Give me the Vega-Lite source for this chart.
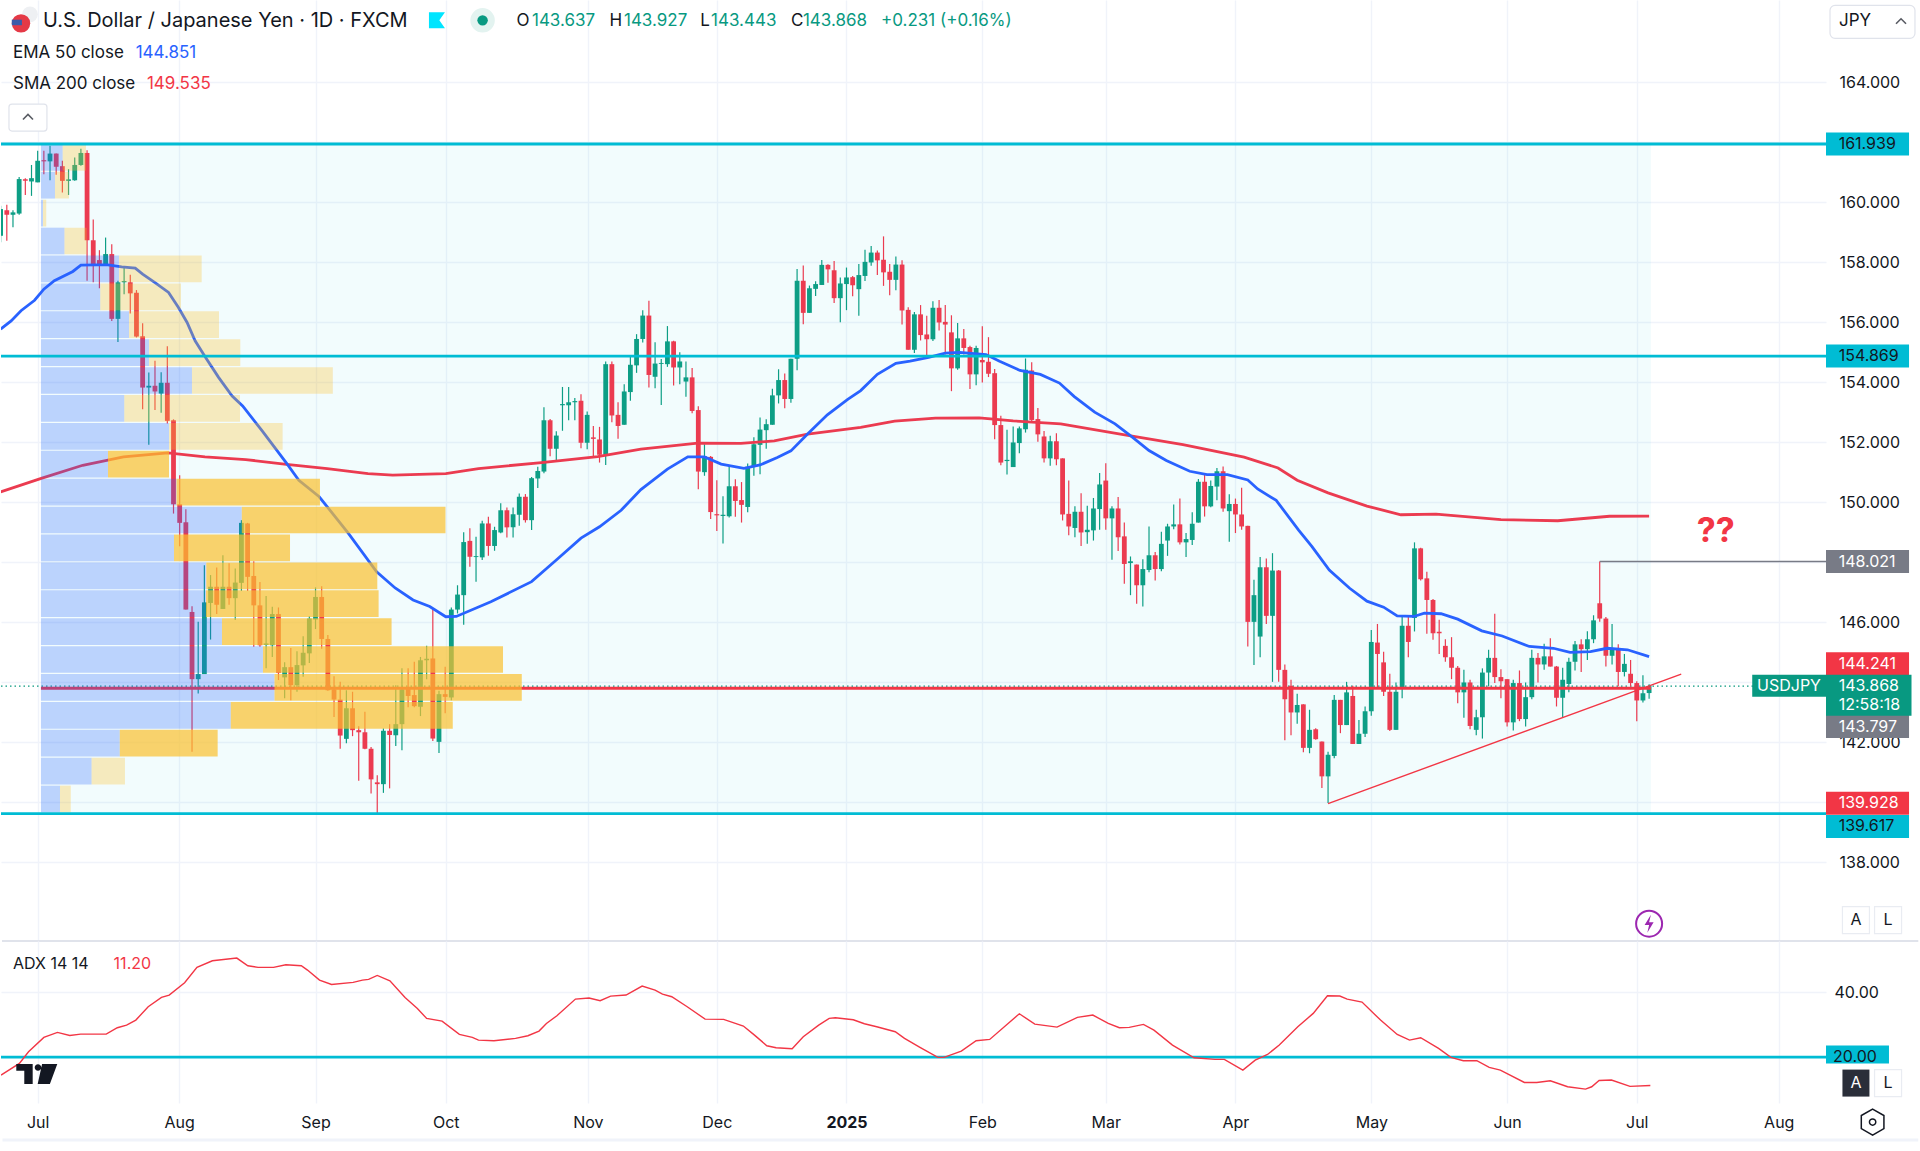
{
  "$schema": "https://vega.github.io/schema/vega-lite/v6.json",
  "description": "USD/JPY daily candles with EMA 50, SMA 200, volume profile and ADX",
  "background": "white",
  "padding": 0,
  "spacing": 0,
  "bounds": "flush",
  "config": {
    "view": {"stroke": null},
    "font": "Inter",
    "axis": {"title": null}
  },
  "datasets": {
    "candles": [
      {"i":-6,"o":158.88,"h":159.88,"l":158.66,"c":159.77},{"i":-5,"o":159.73,"h":159.91,"l":158.71,"c":159.58},{"i":-4,"o":159.58,"h":159.73,"l":159.16,"c":159.66},{"i":-3,"o":159.62,"h":160.84,"l":159.58,"c":160.77},{"i":-2,"o":160.76,"h":160.80,"l":160.24,"c":160.71},{"i":-1,"o":160.69,"h":161.24,"l":160.21,"c":160.80},
      {"i":0,"o":160.66,"h":161.71,"l":160.66,"c":161.38},{"i":1,"o":161.40,"h":161.71,"l":160.93,"c":161.36},{"i":2,"o":161.36,"h":161.88,"l":160.73,"c":161.62},{"i":3,"o":161.62,"h":161.62,"l":160.91,"c":161.18},{"i":4,"o":161.20,"h":161.38,"l":160.32,"c":160.71},{"i":5,"o":160.71,"h":161.10,"l":160.24,"c":160.76},{"i":6,"o":160.73,"h":161.49,"l":160.71,"c":161.24},{"i":7,"o":161.24,"h":161.78,"l":161.21,"c":161.64},{"i":8,"o":161.64,"h":161.73,"l":157.38,"c":158.73},{"i":9,"o":158.73,"h":159.42,"l":157.33,"c":157.87},
      {"i":10,"o":158.07,"h":158.40,"l":157.13,"c":157.91},{"i":11,"o":157.91,"h":158.82,"l":157.88,"c":158.27},{"i":12,"o":158.27,"h":158.60,"l":156.04,"c":156.11},{"i":13,"o":156.11,"h":157.38,"l":155.34,"c":157.33},{"i":14,"o":157.33,"h":157.84,"l":156.93,"c":157.37},{"i":15,"o":157.33,"h":157.58,"l":156.29,"c":156.96},{"i":16,"o":156.98,"h":157.07,"l":155.49,"c":155.52},{"i":17,"o":155.53,"h":155.96,"l":153.10,"c":153.82},{"i":18,"o":153.82,"h":154.32,"l":151.91,"c":153.88},{"i":19,"o":153.88,"h":154.71,"l":153.07,"c":153.69},
      {"i":20,"o":153.62,"h":154.33,"l":152.98,"c":153.98},{"i":21,"o":153.98,"h":155.20,"l":152.62,"c":152.71},{"i":22,"o":152.73,"h":152.76,"l":149.62,"c":149.93},{"i":23,"o":149.93,"h":150.90,"l":148.53,"c":149.31},{"i":24,"o":149.33,"h":149.76,"l":146.42,"c":146.42},{"i":25,"o":146.34,"h":146.53,"l":141.68,"c":144.10},{"i":26,"o":144.10,"h":146.01,"l":143.62,"c":144.27},{"i":27,"o":144.27,"h":147.90,"l":144.27,"c":146.66},{"i":28,"o":146.64,"h":147.57,"l":145.42,"c":147.18},{"i":29,"o":147.18,"h":147.82,"l":146.27,"c":146.58},
      {"i":30,"o":146.44,"h":148.23,"l":146.44,"c":147.18},{"i":31,"o":147.18,"h":147.96,"l":146.58,"c":146.80},{"i":32,"o":146.80,"h":147.79,"l":146.07,"c":147.32},{"i":33,"o":147.31,"h":149.40,"l":147.04,"c":149.31},{"i":34,"o":149.29,"h":149.31,"l":147.04,"c":147.51},{"i":35,"o":147.54,"h":148.03,"l":145.18,"c":146.56},{"i":36,"o":146.56,"h":147.34,"l":145.18,"c":145.23},{"i":37,"o":145.24,"h":146.87,"l":144.46,"c":145.29},{"i":38,"o":145.23,"h":146.51,"l":144.84,"c":146.27},{"i":39,"o":146.27,"h":146.49,"l":144.07,"c":144.31},
      {"i":40,"o":144.16,"h":144.66,"l":143.46,"c":144.50},{"i":41,"o":144.50,"h":145.14,"l":143.40,"c":143.90},{"i":42,"o":143.90,"h":145.03,"l":143.68,"c":144.57},{"i":43,"o":144.56,"h":145.53,"l":144.18,"c":144.98},{"i":44,"o":144.96,"h":146.20,"l":144.64,"c":146.12},{"i":45,"o":146.09,"h":147.16,"l":145.77,"c":146.84},{"i":46,"o":146.84,"h":147.20,"l":145.11,"c":145.44},{"i":47,"o":145.44,"h":145.57,"l":143.71,"c":143.73},{"i":48,"o":143.76,"h":144.20,"l":142.84,"c":143.42},{"i":49,"o":143.42,"h":144.01,"l":141.78,"c":142.22},
      {"i":50,"o":142.11,"h":143.73,"l":141.96,"c":143.13},{"i":51,"o":143.13,"h":143.68,"l":142.20,"c":142.40},{"i":52,"o":142.40,"h":142.53,"l":140.71,"c":142.33},{"i":53,"o":142.33,"h":143.01,"l":141.76,"c":141.78},{"i":54,"o":141.78,"h":141.84,"l":140.29,"c":140.76},{"i":55,"o":140.66,"h":140.90,"l":139.64,"c":140.60},{"i":56,"o":140.60,"h":142.46,"l":140.31,"c":142.38},{"i":57,"o":142.38,"h":142.60,"l":140.46,"c":142.24},{"i":58,"o":142.23,"h":143.90,"l":141.87,"c":142.60},{"i":59,"o":142.60,"h":144.46,"l":141.73,"c":143.76},
      {"i":60,"o":143.84,"h":144.46,"l":143.16,"c":143.54},{"i":61,"o":143.57,"h":144.68,"l":143.16,"c":143.20},{"i":62,"o":143.18,"h":144.84,"l":142.87,"c":144.73},{"i":63,"o":144.73,"h":145.21,"l":144.10,"c":144.78},{"i":64,"o":144.79,"h":146.46,"l":142.04,"c":142.12},{"i":65,"o":142.01,"h":143.71,"l":141.64,"c":143.60},{"i":66,"o":143.60,"h":144.51,"l":142.96,"c":143.51},{"i":67,"o":143.49,"h":146.49,"l":143.40,"c":146.42},{"i":68,"o":146.42,"h":147.23,"l":146.29,"c":146.92},{"i":69,"o":146.90,"h":149.00,"l":145.91,"c":148.67},
      {"i":70,"o":148.71,"h":149.13,"l":147.85,"c":148.18},{"i":71,"o":148.17,"h":148.85,"l":147.35,"c":148.20},{"i":72,"o":148.16,"h":149.38,"l":148.07,"c":149.29},{"i":73,"o":149.29,"h":149.51,"l":148.21,"c":148.54},{"i":74,"o":148.54,"h":149.18,"l":148.38,"c":149.07},{"i":75,"o":148.99,"h":149.96,"l":148.96,"c":149.73},{"i":76,"o":149.73,"h":149.82,"l":148.82,"c":149.16},{"i":77,"o":149.16,"h":149.82,"l":148.82,"c":149.60},{"i":78,"o":149.58,"h":150.29,"l":149.21,"c":150.18},{"i":79,"o":150.18,"h":150.27,"l":149.32,"c":149.40},
      {"i":80,"o":149.40,"h":150.84,"l":149.07,"c":150.80},{"i":81,"o":150.79,"h":151.18,"l":150.47,"c":151.04},{"i":82,"o":151.02,"h":153.16,"l":150.96,"c":152.73},{"i":83,"o":152.73,"h":152.77,"l":151.53,"c":151.78},{"i":84,"o":151.78,"h":152.36,"l":151.40,"c":152.22},{"i":85,"o":153.23,"h":153.84,"l":152.38,"c":153.27},{"i":86,"o":153.23,"h":153.84,"l":152.73,"c":153.33},{"i":87,"o":153.33,"h":153.47,"l":152.73,"c":153.37},{"i":88,"o":153.38,"h":153.60,"l":151.80,"c":151.98},{"i":89,"o":151.98,"h":153.02,"l":151.76,"c":152.91},
      {"i":90,"o":152.16,"h":152.54,"l":151.54,"c":152.11},{"i":91,"o":152.09,"h":152.51,"l":151.32,"c":151.58},{"i":92,"o":151.58,"h":154.69,"l":151.24,"c":154.60},{"i":93,"o":154.60,"h":154.69,"l":152.66,"c":152.89},{"i":94,"o":152.91,"h":153.33,"l":152.11,"c":152.54},{"i":95,"o":152.58,"h":153.93,"l":152.58,"c":153.69},{"i":96,"o":153.67,"h":154.84,"l":153.38,"c":154.58},{"i":97,"o":154.56,"h":155.60,"l":154.31,"c":155.44},{"i":98,"o":155.44,"h":156.40,"l":155.32,"c":156.22},{"i":99,"o":156.22,"h":156.71,"l":153.82,"c":154.24},
      {"i":100,"o":154.18,"h":155.33,"l":153.80,"c":154.62},{"i":101,"o":154.61,"h":154.77,"l":153.24,"c":154.64},{"i":102,"o":154.60,"h":155.87,"l":154.51,"c":155.36},{"i":103,"o":155.36,"h":155.38,"l":153.89,"c":154.49},{"i":104,"o":154.49,"h":155.00,"l":153.93,"c":154.69},{"i":105,"o":154.02,"h":154.69,"l":153.51,"c":154.16},{"i":106,"o":154.16,"h":154.47,"l":152.96,"c":153.04},{"i":107,"o":153.07,"h":153.20,"l":150.43,"c":151.02},{"i":108,"o":151.00,"h":151.93,"l":150.88,"c":151.53},{"i":109,"o":151.51,"h":151.54,"l":149.44,"c":149.67},
      {"i":110,"o":149.60,"h":150.73,"l":149.04,"c":149.56},{"i":111,"o":149.54,"h":150.20,"l":148.62,"c":149.58},{"i":112,"o":149.53,"h":151.21,"l":149.49,"c":150.53},{"i":113,"o":150.53,"h":150.76,"l":149.51,"c":150.04},{"i":114,"o":150.07,"h":150.67,"l":149.32,"c":149.91},{"i":115,"o":149.84,"h":151.29,"l":149.66,"c":151.18},{"i":116,"o":151.18,"h":152.16,"l":150.88,"c":151.93},{"i":117,"o":151.91,"h":152.82,"l":150.93,"c":152.42},{"i":118,"o":152.40,"h":152.76,"l":151.78,"c":152.60},{"i":119,"o":152.58,"h":153.78,"l":152.58,"c":153.56},
      {"i":120,"o":153.56,"h":154.43,"l":153.29,"c":154.07},{"i":121,"o":154.07,"h":154.29,"l":153.13,"c":153.44},{"i":122,"o":153.44,"h":154.78,"l":153.31,"c":154.78},{"i":123,"o":154.78,"h":157.77,"l":154.40,"c":157.38},{"i":124,"o":157.38,"h":157.89,"l":155.93,"c":156.31},{"i":125,"o":156.31,"h":157.22,"l":156.31,"c":157.13},{"i":126,"o":157.11,"h":157.36,"l":156.87,"c":157.27},{"i":127,"o":157.24,"h":158.07,"l":157.24,"c":157.91},{"i":128,"o":157.91,"h":157.93,"l":157.31,"c":157.76},{"i":129,"o":157.73,"h":158.04,"l":156.64,"c":156.80},
      {"i":130,"o":156.80,"h":157.49,"l":156.00,"c":157.29},{"i":131,"o":157.27,"h":157.82,"l":156.40,"c":157.49},{"i":132,"o":157.50,"h":157.54,"l":156.86,"c":157.23},{"i":133,"o":157.10,"h":157.94,"l":156.21,"c":157.57},{"i":134,"o":157.54,"h":158.41,"l":157.37,"c":158.01},{"i":135,"o":157.99,"h":158.54,"l":157.88,"c":158.32},{"i":136,"o":158.32,"h":158.39,"l":157.57,"c":158.06},{"i":137,"o":158.08,"h":158.86,"l":157.21,"c":157.66},{"i":138,"o":157.68,"h":157.94,"l":156.90,"c":157.41},{"i":139,"o":157.41,"h":158.19,"l":157.06,"c":157.92},
      {"i":140,"o":157.92,"h":158.06,"l":155.92,"c":156.39},{"i":141,"o":156.41,"h":156.50,"l":155.08,"c":155.08},{"i":142,"o":155.08,"h":156.34,"l":154.97,"c":156.26},{"i":143,"o":156.26,"h":156.57,"l":155.39,"c":155.57},{"i":144,"o":155.59,"h":156.21,"l":154.78,"c":155.43},{"i":145,"o":155.43,"h":156.70,"l":155.37,"c":156.48},{"i":146,"o":156.48,"h":156.74,"l":155.72,"c":155.99},{"i":147,"o":156.01,"h":156.57,"l":154.92,"c":155.92},{"i":148,"o":155.66,"h":156.23,"l":153.70,"c":154.46},{"i":149,"o":154.46,"h":155.97,"l":154.41,"c":155.46},
      {"i":150,"o":155.46,"h":155.77,"l":154.92,"c":155.14},{"i":151,"o":155.17,"h":155.21,"l":153.77,"c":154.26},{"i":152,"o":154.26,"h":155.21,"l":153.90,"c":155.14},{"i":153,"o":154.74,"h":155.86,"l":153.99,"c":154.66},{"i":154,"o":154.68,"h":155.50,"l":154.17,"c":154.28},{"i":155,"o":154.30,"h":154.44,"l":152.10,"c":152.57},{"i":156,"o":152.57,"h":152.88,"l":151.23,"c":151.32},{"i":157,"o":151.37,"h":152.41,"l":150.92,"c":151.41},{"i":158,"o":151.17,"h":152.52,"l":151.17,"c":151.99},{"i":159,"o":151.97,"h":152.52,"l":151.63,"c":152.46},
      {"i":160,"o":152.43,"h":154.79,"l":152.32,"c":154.41},{"i":161,"o":154.39,"h":154.66,"l":152.70,"c":152.74},{"i":162,"o":152.77,"h":153.14,"l":152.01,"c":152.26},{"i":163,"o":152.19,"h":152.37,"l":151.32,"c":151.46},{"i":164,"o":151.46,"h":152.21,"l":151.21,"c":152.03},{"i":165,"o":152.03,"h":152.30,"l":151.23,"c":151.43},{"i":166,"o":151.46,"h":151.46,"l":149.39,"c":149.59},{"i":167,"o":149.61,"h":150.72,"l":148.90,"c":149.19},{"i":168,"o":149.14,"h":149.86,"l":148.83,"c":149.68},{"i":169,"o":149.68,"h":150.30,"l":148.54,"c":148.99},
      {"i":170,"o":149.00,"h":149.88,"l":148.61,"c":149.08},{"i":171,"o":149.06,"h":150.14,"l":148.72,"c":149.79},{"i":172,"o":149.77,"h":150.97,"l":149.08,"c":150.59},{"i":173,"o":150.72,"h":151.30,"l":149.08,"c":149.46},{"i":174,"o":149.46,"h":149.86,"l":148.08,"c":149.79},{"i":175,"o":149.79,"h":150.17,"l":148.37,"c":148.83},{"i":176,"o":148.86,"h":149.32,"l":147.28,"c":147.94},{"i":177,"o":147.97,"h":148.19,"l":146.90,"c":148.03},{"i":178,"o":147.92,"h":147.92,"l":146.61,"c":147.23},{"i":179,"o":147.23,"h":148.10,"l":146.52,"c":147.77},
      {"i":180,"o":147.74,"h":149.19,"l":147.66,"c":148.23},{"i":181,"o":148.23,"h":148.34,"l":147.39,"c":147.77},{"i":182,"o":147.77,"h":149.01,"l":147.70,"c":148.61},{"i":183,"o":148.72,"h":149.28,"l":148.21,"c":149.19},{"i":184,"o":149.19,"h":149.92,"l":149.10,"c":149.26},{"i":185,"o":149.26,"h":150.12,"l":148.59,"c":148.66},{"i":186,"o":148.66,"h":148.97,"l":148.17,"c":148.77},{"i":187,"o":148.74,"h":149.66,"l":148.57,"c":149.28},{"i":188,"o":149.32,"h":150.77,"l":149.32,"c":150.68},{"i":189,"o":150.68,"h":150.94,"l":149.52,"c":149.86},
      {"i":190,"o":149.86,"h":150.72,"l":149.83,"c":150.54},{"i":191,"o":150.52,"h":151.14,"l":150.06,"c":151.03},{"i":192,"o":151.03,"h":151.19,"l":149.68,"c":149.79},{"i":193,"o":149.70,"h":150.26,"l":148.68,"c":149.94},{"i":194,"o":149.94,"h":150.12,"l":148.97,"c":149.59},{"i":195,"o":149.59,"h":150.48,"l":149.08,"c":149.19},{"i":196,"o":149.21,"h":149.21,"l":145.19,"c":146.01},{"i":197,"o":146.01,"h":147.41,"l":144.57,"c":146.90},{"i":198,"o":145.52,"h":148.17,"l":144.83,"c":147.83},{"i":199,"o":147.83,"h":148.12,"l":145.94,"c":146.21},
      {"i":200,"o":146.21,"h":148.30,"l":144.01,"c":147.72},{"i":201,"o":147.72,"h":147.74,"l":144.01,"c":144.41},{"i":202,"o":144.41,"h":144.59,"l":142.06,"c":143.43},{"i":203,"o":143.88,"h":144.08,"l":142.23,"c":142.99},{"i":204,"o":142.99,"h":143.61,"l":142.61,"c":143.24},{"i":205,"o":143.26,"h":143.26,"l":141.66,"c":141.81},{"i":206,"o":141.81,"h":143.08,"l":141.63,"c":142.41},{"i":207,"o":142.43,"h":142.46,"l":142.08,"c":142.10},{"i":208,"o":142.02,"h":142.02,"l":140.47,"c":140.86},{"i":209,"o":140.86,"h":141.68,"l":139.97,"c":141.58},
      {"i":210,"o":141.54,"h":143.57,"l":141.46,"c":143.41},{"i":211,"o":143.41,"h":143.41,"l":142.30,"c":142.57},{"i":212,"o":142.57,"h":144.01,"l":142.57,"c":143.66},{"i":213,"o":143.54,"h":143.88,"l":141.94,"c":141.94},{"i":214,"o":141.94,"h":142.74,"l":141.94,"c":142.28},{"i":215,"o":142.28,"h":143.19,"l":142.17,"c":143.03},{"i":216,"o":143.03,"h":145.74,"l":142.88,"c":145.34},{"i":217,"o":145.32,"h":145.94,"l":143.81,"c":144.94},{"i":218,"o":144.66,"h":145.01,"l":143.54,"c":143.68},{"i":219,"o":143.68,"h":144.28,"l":142.37,"c":142.41},
      {"i":220,"o":142.41,"h":143.99,"l":142.41,"c":143.68},{"i":221,"o":143.81,"h":146.17,"l":143.46,"c":145.88},{"i":222,"o":145.88,"h":146.17,"l":144.83,"c":145.34},{"i":223,"o":146.14,"h":148.66,"l":145.69,"c":148.46},{"i":224,"o":148.46,"h":148.48,"l":147.39,"c":147.43},{"i":225,"o":147.46,"h":147.68,"l":145.61,"c":146.74},{"i":226,"o":146.74,"h":146.77,"l":145.41,"c":145.63},{"i":227,"o":145.68,"h":146.08,"l":144.94,"c":145.63},{"i":228,"o":145.21,"h":145.43,"l":144.68,"c":144.83},{"i":229,"o":144.83,"h":145.50,"l":144.10,"c":144.48},
      {"i":230,"o":144.48,"h":144.54,"l":143.30,"c":143.66},{"i":231,"o":143.66,"h":144.41,"l":142.81,"c":143.99},{"i":232,"o":143.99,"h":144.08,"l":142.43,"c":142.54},{"i":233,"o":142.41,"h":143.08,"l":142.23,"c":142.83},{"i":234,"o":142.83,"h":144.46,"l":142.12,"c":144.32},{"i":235,"o":144.32,"h":145.08,"l":143.86,"c":144.81},{"i":236,"o":144.81,"h":146.28,"l":143.97,"c":144.17},{"i":237,"o":144.17,"h":144.43,"l":143.46,"c":144.03},{"i":238,"o":144.10,"h":144.10,"l":142.52,"c":142.66},{"i":239,"o":142.66,"h":144.08,"l":142.39,"c":143.97},
      {"i":240,"o":143.97,"h":144.39,"l":142.70,"c":142.77},{"i":241,"o":142.77,"h":143.99,"l":142.52,"c":143.50},{"i":242,"o":143.50,"h":145.08,"l":143.43,"c":144.81},{"i":243,"o":144.81,"h":144.97,"l":143.99,"c":144.59},{"i":244,"o":144.59,"h":145.28,"l":144.41,"c":144.86},{"i":245,"o":144.86,"h":145.46,"l":144.52,"c":144.52},{"i":246,"o":144.52,"h":144.54,"l":143.19,"c":143.48},{"i":247,"o":143.48,"h":144.48,"l":142.83,"c":144.08},{"i":248,"o":143.94,"h":144.81,"l":143.66,"c":144.68},{"i":249,"o":144.68,"h":145.37,"l":144.39,"c":145.26},
      {"i":250,"o":145.26,"h":145.43,"l":144.34,"c":145.10},{"i":251,"o":145.10,"h":145.70,"l":144.74,"c":145.43},{"i":252,"o":145.43,"h":146.23,"l":145.30,"c":146.06},{"i":253,"o":146.63,"h":148.02,"l":146.01,"c":146.12},{"i":254,"o":146.12,"h":146.17,"l":144.52,"c":144.88},{"i":255,"o":144.88,"h":145.94,"l":144.59,"c":145.14},{"i":256,"o":145.14,"h":145.26,"l":143.86,"c":144.34},{"i":257,"o":144.34,"h":144.94,"l":144.19,"c":144.61},{"i":258,"o":144.28,"h":144.74,"l":143.86,"c":143.97},{"i":259,"o":143.97,"h":144.03,"l":142.70,"c":143.39},
      {"i":260,"o":143.39,"h":144.23,"l":143.32,"c":143.63},{"i":261,"o":143.637,"h":143.927,"l":143.443,"c":143.868}
    ],
    "ema": [
      {"i":-6,"p":155.77},{"i":-4.3,"p":156.04},{"i":-2.7,"p":156.38},{"i":-0.5,"p":156.73},{"i":1,"p":157.10},{"i":2.7,"p":157.38},{"i":5.7,"p":157.69},{"i":7,"p":157.90},{"i":9.2,"p":157.91},{"i":11.4,"p":157.91},{"i":13.6,"p":157.84},{"i":15.8,"p":157.80},{"i":17,"p":157.60},{"i":19,"p":157.32},{"i":21.2,"p":156.99},{"i":22.8,"p":156.49},{"i":24.2,"p":155.99},{"i":25.5,"p":155.38},{"i":27.2,"p":154.82},{"i":29.3,"p":154.16},{"i":31.5,"p":153.54},{"i":33.2,"p":153.21},{"i":36.3,"p":152.39},{"i":40.3,"p":151.30},{"i":42.3,"p":150.73},{"i":45.6,"p":150.18},{"i":50.3,"p":148.97},{"i":54.9,"p":147.68},{"i":57.9,"p":147.14},{"i":60.8,"p":146.74},{"i":63.5,"p":146.52},{"i":66.1,"p":146.18},{"i":67.8,"p":146.19},{"i":73.4,"p":146.68},{"i":80,"p":147.35},{"i":84,"p":148.07},{"i":88,"p":148.80},{"i":91,"p":149.18},{"i":94.5,"p":149.73},{"i":97.7,"p":150.42},{"i":102,"p":151.10},{"i":105.3,"p":151.51},{"i":108,"p":151.51},{"i":110.7,"p":151.27},{"i":114.4,"p":151.13},{"i":117,"p":151.24},{"i":119.8,"p":151.49},{"i":122,"p":151.71},{"i":124.7,"p":152.27},{"i":127.9,"p":152.91},{"i":131.2,"p":153.43},{"i":133.3,"p":153.72},{"i":136,"p":154.26},{"i":139,"p":154.63},{"i":141.3,"p":154.70},{"i":144.3,"p":154.83},{"i":147,"p":154.97},{"i":149.3,"p":154.99},{"i":153.6,"p":154.92},{"i":155.8,"p":154.70},{"i":159.1,"p":154.39},{"i":162.4,"p":154.26},{"i":165.5,"p":153.97},{"i":167.9,"p":153.52},{"i":171.2,"p":153.00},{"i":174.5,"p":152.61},{"i":177.3,"p":152.17},{"i":180,"p":151.72},{"i":182.8,"p":151.39},{"i":186.6,"p":151.03},{"i":189.4,"p":150.92},{"i":192.7,"p":150.92},{"i":196,"p":150.74},{"i":197.6,"p":150.44},{"i":200.6,"p":150.06},{"i":204.2,"p":149.08},{"i":206.4,"p":148.52},{"i":209.2,"p":147.74},{"i":212.5,"p":147.13},{"i":215.3,"p":146.70},{"i":218,"p":146.50},{"i":220.2,"p":146.21},{"i":222.9,"p":146.19},{"i":224.6,"p":146.30},{"i":227.3,"p":146.28},{"i":230,"p":146.10},{"i":233.9,"p":145.71},{"i":237.2,"p":145.54},{"i":241.6,"p":145.19},{"i":245.5,"p":145.13},{"i":248.2,"p":144.99},{"i":251.5,"p":145.02},{"i":254.2,"p":145.13},{"i":257.5,"p":145.08},{"i":261,"p":144.851}
    ],
    "sma": [
      {"i":-6,"p":150.34},{"i":0.7,"p":150.80},{"i":7.3,"p":151.23},{"i":13.9,"p":151.51},{"i":21.1,"p":151.64},{"i":27.1,"p":151.51},{"i":33.7,"p":151.42},{"i":40.3,"p":151.26},{"i":46.9,"p":151.12},{"i":53.5,"p":150.95},{"i":57.5,"p":150.90},{"i":66.1,"p":150.95},{"i":71.4,"p":151.12},{"i":81.6,"p":151.32},{"i":90.7,"p":151.52},{"i":97.7,"p":151.77},{"i":106.9,"p":151.97},{"i":113.9,"p":151.96},{"i":119.3,"p":152.04},{"i":124.7,"p":152.27},{"i":133.3,"p":152.49},{"i":138.8,"p":152.70},{"i":145.4,"p":152.80},{"i":152.5,"p":152.81},{"i":158,"p":152.71},{"i":165.7,"p":152.61},{"i":175.6,"p":152.26},{"i":185.5,"p":151.92},{"i":195.4,"p":151.50},{"i":200.9,"p":151.14},{"i":204,"p":150.73},{"i":209,"p":150.31},{"i":215.3,"p":149.87},{"i":220.8,"p":149.58},{"i":226.5,"p":149.60},{"i":237,"p":149.42},{"i":246.2,"p":149.38},{"i":254.6,"p":149.53},{"i":261,"p":149.535}
    ],
    "adx": [
      {"i":-5.94,"a":14.43},{"i":-2.96,"a":18.04},{"i":-1.48,"a":21.65},{"i":1,"a":26.08},{"i":3.2,"a":27.63},{"i":5.2,"a":26.70},{"i":6.96,"a":27.11},{"i":11.1,"a":27.11},{"i":12.9,"a":29.07},{"i":14.4,"a":29.90},{"i":15.9,"a":31.44},{"i":17.9,"a":35.57},{"i":20.05,"a":38.45},{"i":21.3,"a":39.18},{"i":23.8,"a":42.99},{"i":25.8,"a":47.73},{"i":28.3,"a":49.79},{"i":32.25,"a":50.62},{"i":34.04,"a":48.25},{"i":35.7,"a":47.73},{"i":38.2,"a":47.73},{"i":40.2,"a":48.56},{"i":42.7,"a":48.25},{"i":43.7,"a":46.91},{"i":45.65,"a":43.81},{"i":47.6,"a":42.47},{"i":51.1,"a":43.09},{"i":52.6,"a":43.81},{"i":53.6,"a":44.02},{"i":55,"a":45.26},{"i":57.05,"a":43.61},{"i":59.5,"a":38.45},{"i":61.5,"a":35.05},{"i":63,"a":31.96},{"i":65.5,"a":31.13},{"i":68.3,"a":27.01},{"i":70.4,"a":26.08},{"i":71.4,"a":25.26},{"i":73.9,"a":25.05},{"i":77.4,"a":25.77},{"i":79.4,"a":26.60},{"i":81.2,"a":28.04},{"i":82.4,"a":30.41},{"i":84.1,"a":32.78},{"i":87.1,"a":37.94},{"i":89.3,"a":38.25},{"i":91.1,"a":37.42},{"i":92.8,"a":38.87},{"i":95.3,"a":39.18},{"i":97.9,"a":41.96},{"i":100,"a":40.72},{"i":101.2,"a":39.48},{"i":102.7,"a":38.66},{"i":105.2,"a":35.57},{"i":108.1,"a":31.75},{"i":111.1,"a":31.65},{"i":114.3,"a":29.59},{"i":116.1,"a":26.80},{"i":118.1,"a":23.51},{"i":119.6,"a":22.89},{"i":122.2,"a":22.58},{"i":124,"a":26.29},{"i":126.5,"a":29.90},{"i":128.2,"a":31.96},{"i":129.2,"a":32.16},{"i":132.1,"a":31.55},{"i":133.9,"a":30.31},{"i":135.9,"a":29.38},{"i":138.9,"a":27.84},{"i":140.4,"a":25.77},{"i":142.9,"a":22.99},{"i":145.8,"a":19.90},{"i":146.8,"a":19.90},{"i":149.6,"a":21.86},{"i":152,"a":25.05},{"i":154.2,"a":25.46},{"i":159,"a":33.40},{"i":161.5,"a":30.21},{"i":165.1,"a":29.28},{"i":168.4,"a":32.27},{"i":170.9,"a":32.99},{"i":173.4,"a":30.41},{"i":175.2,"a":29.07},{"i":176.8,"a":29.18},{"i":179.1,"a":30.10},{"i":180.8,"a":28.35},{"i":183.8,"a":23.71},{"i":187.3,"a":19.79},{"i":190.7,"a":19.28},{"i":192.2,"a":19.28},{"i":195.2,"a":15.98},{"i":197.2,"a":19.07},{"i":199.2,"a":20.82},{"i":201.1,"a":23.71},{"i":204.1,"a":29.38},{"i":206.6,"a":33.51},{"i":208.9,"a":38.97},{"i":210.9,"a":38.87},{"i":212.1,"a":37.94},{"i":214.5,"a":37.01},{"i":217.5,"a":31.44},{"i":220.2,"a":27.01},{"i":222.2,"a":25.26},{"i":224,"a":25.98},{"i":226.9,"a":22.68},{"i":228.9,"a":19.90},{"i":230.9,"a":18.87},{"i":233.1,"a":18.87},{"i":235.1,"a":16.80},{"i":236.9,"a":15.98},{"i":240.8,"a":12.16},{"i":242.8,"a":12.16},{"i":245,"a":12.68},{"i":247.8,"a":10.82},{"i":250.7,"a":10.10},{"i":251.7,"a":10.82},{"i":252.9,"a":12.78},{"i":254.9,"a":12.89},{"i":257.9,"a":10.93},{"i":261.2,"a":11.20}
    ],
    "profile": [
      {"hi":161.94,"lo":161.05,"start":0.53,"blue":4.05,"end":7.82,"va":false},{"hi":161.01,"lo":160.12,"start":0.53,"blue":2.80,"end":5.07,"va":false},{"hi":160.08,"lo":159.19,"start":0.53,"blue":0.86,"end":1.39,"va":false},{"hi":159.15,"lo":158.26,"start":0.53,"blue":4.34,"end":7.94,"va":false},{"hi":158.22,"lo":157.33,"start":0.53,"blue":13.17,"end":26.56,"va":false},{"hi":157.29,"lo":156.40,"start":0.53,"blue":10.14,"end":23.21,"va":false},{"hi":156.36,"lo":155.47,"start":0.53,"blue":14.79,"end":29.37,"va":false},{"hi":155.43,"lo":154.54,"start":0.53,"blue":18.03,"end":32.82,"va":false},{"hi":154.50,"lo":153.61,"start":0.53,"blue":24.99,"end":47.80,"va":false},{"hi":153.57,"lo":152.68,"start":0.53,"blue":14.03,"end":32.77,"va":false},{"hi":152.64,"lo":151.75,"start":0.53,"blue":21.27,"end":39.67,"va":false},{"hi":151.71,"lo":150.82,"start":0.53,"blue":11.39,"end":21.27,"va":true},{"hi":150.78,"lo":149.89,"start":0.53,"blue":22.48,"end":45.72,"va":true},{"hi":149.85,"lo":148.96,"start":0.53,"blue":33.06,"end":66.05,"va":true},{"hi":148.92,"lo":148.03,"start":0.53,"blue":22.08,"end":40.87,"va":true},{"hi":147.99,"lo":147.10,"start":0.53,"blue":27.31,"end":55.01,"va":true},{"hi":147.06,"lo":146.17,"start":0.53,"blue":27.26,"end":55.22,"va":true},{"hi":146.13,"lo":145.24,"start":0.53,"blue":29.85,"end":57.32,"va":true},{"hi":145.20,"lo":144.31,"start":0.53,"blue":36.49,"end":75.37,"va":true},{"hi":144.27,"lo":143.38,"start":0.53,"blue":38.36,"end":78.41,"va":true},{"hi":143.34,"lo":142.45,"start":0.53,"blue":31.28,"end":67.23,"va":true},{"hi":142.41,"lo":141.52,"start":0.53,"blue":13.30,"end":29.15,"va":true},{"hi":141.48,"lo":140.59,"start":0.53,"blue":8.73,"end":14.14,"va":false},{"hi":140.55,"lo":139.66,"start":0.53,"blue":3.61,"end":5.36,"va":false}
    ],
    "pills": [
      {"label":"161.939","p":161.939,"kind":"level"},{"label":"154.869","p":154.869,"kind":"level"},{"label":"139.617","p":139.19,"kind":"level"},{"label":"148.021","p":148.021,"kind":"grey"},{"label":"143.797","p":142.52,"kind":"grey"},{"label":"144.241","p":144.61,"kind":"red"},{"label":"139.928","p":139.96,"kind":"red"}
    ],
    "legendText": [
      {"i":77.55,"p":166.03,"text":"O","role":"dark"},{"i":80.06,"p":166.03,"text":"143.637","role":"green"},{"i":92.63,"p":166.03,"text":"H","role":"dark"},{"i":94.96,"p":166.03,"text":"143.927","role":"green"},{"i":107.3,"p":166.03,"text":"L","role":"dark"},{"i":109.06,"p":166.03,"text":"143.443","role":"green"},{"i":122.0,"p":166.03,"text":"C","role":"dark"},{"i":123.95,"p":166.03,"text":"143.868","role":"green"},{"i":136.6,"p":166.03,"text":"+0.231 (+0.16%)","role":"green"},
      {"i":-4.0,"p":164.98,"text":"EMA 50 close","role":"dark"},{"i":15.87,"p":164.98,"text":"144.851","role":"blue"},{"i":-4.0,"p":163.93,"text":"SMA 200 close","role":"dark"},{"i":17.70,"p":163.93,"text":"149.535","role":"red"},{"i":291.76,"p":166.03,"text":"JPY","role":"dark"}
    ]
  },
  "vconcat": [
    {
      "width": 1825,
      "height": 941,
      "layer": [
        {
          "data": {"values": [{"i": -5.94, "e": 289.65, "p": 143.868}]},
          "mark": {"type": "rule", "color": "#089981", "strokeWidth": 1.2, "strokeDash": [1.5, 3], "clip": true},
          "encoding": {
            "x": {"field": "i", "type": "quantitative", "scale": {"domain": [-5.94, 289.65], "nice": false, "zero": false, "padding": 0},
              "axis": {"orient": "bottom", "values": [0, 22.9, 45, 66.1, 89.1, 110, 131, 153, 173, 194, 216, 238, 259, 282], "labels": false, "ticks": false, "domain": false, "grid": true, "gridColor": "#F0F3FA", "gridWidth": 1.4}},
            "x2": {"field": "e"},
            "y": {"field": "p", "type": "quantitative", "scale": {"domain": [135.372, 166.739], "nice": false, "zero": false},
              "axis": {"orient": "right", "values": [138, 140, 142, 144, 146, 148, 150, 152, 154, 156, 158, 160, 162, 164], "labelExpr": "indexof([140,144,148,162],datum.value) >= 0 ? '' : format(datum.value,'.3f')", "domain": false, "ticks": false, "grid": true, "gridColor": "#F0F3FA", "gridWidth": 1.4, "labelFont": "Inter", "labelFontSize": 16, "labelColor": "#131722", "labelPadding": 13}}
          }
        },
        {
          "data": {"values": [{"a": 0.53, "b": 261.3, "hi": 161.939, "lo": 139.617}]},
          "mark": {"type": "rect", "color": "#00BCD4", "opacity": 0.05},
          "encoding": {
            "x": {"field": "a", "type": "quantitative"}, "x2": {"field": "b"},
            "y": {"field": "hi", "type": "quantitative"}, "y2": {"field": "lo"}
          }
        },
        {
          "data": {"name": "candles"},
          "mark": {"type": "rule", "strokeWidth": 1.2, "clip": true},
          "encoding": {
            "x": {"field": "i", "type": "quantitative"},
            "y": {"field": "h", "type": "quantitative"}, "y2": {"field": "l"},
            "color": {"condition": {"test": "datum.c >= datum.o", "value": "#0D9E85"}, "value": "#EB3B50"}
          }
        },
        {
          "data": {"name": "candles"},
          "mark": {"type": "bar", "size": 4.8, "clip": true},
          "encoding": {
            "x": {"field": "i", "type": "quantitative"},
            "y": {"field": "o", "type": "quantitative"}, "y2": {"field": "c"},
            "color": {"condition": {"test": "datum.c >= datum.o", "value": "#0D9E85"}, "value": "#EB3B50"}
          }
        },
        {
          "data": {"name": "sma"},
          "mark": {"type": "line", "color": "#EB3B50", "strokeWidth": 2.8, "clip": true},
          "encoding": {"x": {"field": "i", "type": "quantitative"}, "y": {"field": "p", "type": "quantitative"}}
        },
        {
          "data": {"name": "ema"},
          "mark": {"type": "line", "color": "#2962FF", "strokeWidth": 2.8, "clip": true},
          "encoding": {"x": {"field": "i", "type": "quantitative"}, "y": {"field": "p", "type": "quantitative"}}
        },
        {
          "data": {"values": [{"a": 0.53, "b": 261.3, "p": 143.797}]},
          "mark": {"type": "rule", "color": "#F23645", "strokeWidth": 2.8},
          "encoding": {"x": {"field": "a", "type": "quantitative"}, "x2": {"field": "b"}, "y": {"field": "p", "type": "quantitative"}}
        },
        {
          "data": {"name": "profile"},
          "mark": {"type": "rect", "color": "#2962FF", "opacity": 0.27},
          "encoding": {
            "x": {"field": "start", "type": "quantitative"}, "x2": {"field": "blue"},
            "y": {"field": "hi", "type": "quantitative"}, "y2": {"field": "lo"}
          }
        },
        {
          "data": {"name": "profile"},
          "mark": {"type": "rect", "color": "#FBC02D"},
          "encoding": {
            "x": {"field": "blue", "type": "quantitative"}, "x2": {"field": "end"},
            "y": {"field": "hi", "type": "quantitative"}, "y2": {"field": "lo"},
            "opacity": {"condition": {"test": "datum.va", "value": 0.7}, "value": 0.3}
          }
        },
        {
          "data": {"values": [{"p": 161.939}, {"p": 154.869}, {"p": 139.617}]},
          "mark": {"type": "rule", "color": "#00BCD4", "strokeWidth": 2.8, "clip": true},
          "encoding": {"y": {"field": "p", "type": "quantitative"}}
        },
        {
          "data": {"values": [{"i": 209, "p": 139.95}, {"i": 266.2, "p": 144.27}]},
          "mark": {"type": "line", "color": "#F23645", "strokeWidth": 1.4},
          "encoding": {"x": {"field": "i", "type": "quantitative"}, "y": {"field": "p", "type": "quantitative"}}
        },
        {
          "data": {"values": [{"a": 253, "b": 289.65, "p": 148.021}]},
          "mark": {"type": "rule", "color": "#787B86", "strokeWidth": 1.4},
          "encoding": {"x": {"field": "a", "type": "quantitative"}, "x2": {"field": "b"}, "y": {"field": "p", "type": "quantitative"}}
        },
        {
          "data": {"values": [{"a": -5.78, "b": 304.6, "p": 135.372}]},
          "mark": {"type": "rule", "color": "#E0E3EB", "strokeWidth": 2},
          "encoding": {"x": {"field": "a", "type": "quantitative"}, "x2": {"field": "b"}, "y": {"field": "p", "type": "quantitative"}}
        },
        {
          "data": {"name": "pills"},
          "mark": {"type": "rule", "strokeWidth": 23},
          "encoding": {
            "x": {"datum": 289.65}, "x2": {"datum": 303.1},
            "y": {"field": "p", "type": "quantitative"},
            "color": {"condition": [{"test": "datum.kind == 'level'", "value": "#00BCD4"}, {"test": "datum.kind == 'grey'", "value": "#787B86"}], "value": "#F23645"}
          }
        },
        {
          "data": {"values": [{"p": 143.565}]},
          "mark": {"type": "rule", "strokeWidth": 41, "color": "#089981"},
          "encoding": {"x": {"datum": 289.65}, "x2": {"datum": 303.5}, "y": {"field": "p", "type": "quantitative"}}
        },
        {
          "data": {"values": [{"p": 143.88}]},
          "mark": {"type": "rule", "strokeWidth": 22, "color": "#089981"},
          "encoding": {"x": {"datum": 277.7}, "x2": {"datum": 289.65}, "y": {"field": "p", "type": "quantitative"}}
        },
        {
          "data": {"name": "pills"},
          "mark": {"type": "text", "align": "left", "baseline": "middle", "font": "Inter", "fontSize": 16},
          "encoding": {
            "x": {"datum": 291.7},
            "y": {"field": "p", "type": "quantitative"},
            "text": {"field": "label"},
            "color": {"condition": {"test": "datum.kind == 'level'", "value": "#131722"}, "value": "#FFFFFF"}
          }
        },
        {
          "data": {"values": [{"i": 291.7, "p": 143.86, "t": "143.868"}, {"i": 291.7, "p": 143.25, "t": "12:58:18"}]},
          "mark": {"type": "text", "baseline": "middle", "font": "Inter", "fontSize": 16, "align": "left", "color": "#FFFFFF"},
          "encoding": {
            "x": {"field": "i", "type": "quantitative"},
            "y": {"field": "p", "type": "quantitative"},
            "text": {"field": "t"}
          }
        },
        {
          "data": {"values": [{"i": 283.66, "p": 143.88, "t": "USDJPY"}]},
          "mark": {"type": "text", "baseline": "middle", "font": "Inter", "fontSize": 16, "align": "center", "color": "#FFFFFF"},
          "encoding": {
            "x": {"field": "i", "type": "quantitative"},
            "y": {"field": "p", "type": "quantitative"},
            "text": {"field": "t"}
          }
        },
        {
          "data": {"values": [{"i": 0.86, "p": 166.03, "t": "U.S. Dollar / Japanese Yen · 1D · FXCM"}]},
          "mark": {"type": "text", "align": "left", "baseline": "middle", "font": "Inter", "fontSize": 20, "color": "#131722"},
          "encoding": {"x": {"field": "i", "type": "quantitative"}, "y": {"field": "p", "type": "quantitative"}, "text": {"field": "t"}}
        },
        {
          "data": {"name": "legendText"},
          "mark": {"type": "text", "align": "left", "baseline": "middle", "font": "Inter", "fontSize": 17},
          "encoding": {
            "x": {"field": "i", "type": "quantitative"},
            "y": {"field": "p", "type": "quantitative"},
            "text": {"field": "text"},
            "color": {"condition": [{"test": "datum.role == 'green'", "value": "#089981"}, {"test": "datum.role == 'blue'", "value": "#2962FF"}, {"test": "datum.role == 'red'", "value": "#F23645"}], "value": "#131722"}
          }
        },
        {
          "data": {"values": [{"i": 268.7, "p": 149.0, "t": "??"}]},
          "mark": {"type": "text", "align": "left", "baseline": "middle", "font": "Inter", "fontWeight": "bold", "fontSize": 34, "color": "#F23645"},
          "encoding": {"x": {"field": "i", "type": "quantitative"}, "y": {"field": "p", "type": "quantitative"}, "text": {"field": "t"}}
        },
        {
          "data": {"values": [{"a": -4.65, "b": 1.5, "hi": 163.27, "lo": 162.37}]},
          "mark": {"type": "rect", "fill": "#FFFFFF", "stroke": "#E0E3EB", "strokeWidth": 1.2, "cornerRadius": 3},
          "encoding": {"x": {"field": "a", "type": "quantitative"}, "x2": {"field": "b"}, "y": {"field": "hi", "type": "quantitative"}, "y2": {"field": "lo"}}
        },
        {
          "data": {"values": [{"a": 290.3, "b": 304.06, "hi": 166.56, "lo": 165.46}]},
          "mark": {"type": "rect", "fill": "#FFFFFF", "fillOpacity": 0, "stroke": "#E0E3EB", "strokeWidth": 1.2, "cornerRadius": 5},
          "encoding": {"x": {"field": "a", "type": "quantitative"}, "x2": {"field": "b"}, "y": {"field": "hi", "type": "quantitative"}, "y2": {"field": "lo"}}
        },
        {
          "data": {"values": [{"i": -1.57, "p": 162.84}, {"i": 301.8, "p": 166.03}]},
          "mark": {"type": "point", "shape": "M-1,0.5L0,-0.5L1,0.5", "size": 100, "stroke": "#131722", "strokeWidth": 1.6, "filled": false},
          "encoding": {"x": {"field": "i", "type": "quantitative"}, "y": {"field": "p", "type": "quantitative"}}
        },
        {
          "data": {"values": [{"i": -1.25, "p": 166.26}]},
          "mark": {"type": "point", "shape": "circle", "size": 250, "filled": true, "color": "#EEF0F3", "opacity": 1},
          "encoding": {"x": {"field": "i", "type": "quantitative"}, "y": {"field": "p", "type": "quantitative"}}
        },
        {
          "data": {"values": [{"i": -2.7, "p": 165.96}]},
          "mark": {"type": "point", "shape": "circle", "size": 340, "filled": true, "color": "#E53946", "opacity": 1},
          "encoding": {"x": {"field": "i", "type": "quantitative"}, "y": {"field": "p", "type": "quantitative"}}
        },
        {
          "data": {"values": [{"i": -2.7, "p": 165.96}]},
          "mark": {"type": "point", "shape": "M-1,-0.4H0.1V0.2H-1Z", "size": 340, "filled": true, "color": "#3C5BA9", "opacity": 1},
          "encoding": {"x": {"field": "i", "type": "quantitative"}, "y": {"field": "p", "type": "quantitative"}}
        },
        {
          "data": {"values": [{"i": 64.67, "p": 166.06}]},
          "mark": {"type": "point", "shape": "M-1,-1H1L0.3,0L1,1H-1Z", "size": 256, "filled": true, "color": "#00E5FF", "opacity": 1},
          "encoding": {"x": {"field": "i", "type": "quantitative"}, "y": {"field": "p", "type": "quantitative"}}
        },
        {
          "data": {"values": [{"i": 72.06, "p": 166.06}]},
          "mark": {"type": "point", "shape": "circle", "size": 600, "filled": true, "color": "#E3F3F0", "opacity": 1},
          "encoding": {"x": {"field": "i", "type": "quantitative"}, "y": {"field": "p", "type": "quantitative"}}
        },
        {
          "data": {"values": [{"i": 72.06, "p": 166.06}]},
          "mark": {"type": "point", "shape": "circle", "size": 110, "filled": true, "color": "#089981", "opacity": 1},
          "encoding": {"x": {"field": "i", "type": "quantitative"}, "y": {"field": "p", "type": "quantitative"}}
        },
        {
          "data": {"values": [{"i": 261, "p": 135.95}]},
          "mark": {"type": "point", "shape": "circle", "size": 676, "filled": false, "fill": "#FFFFFF", "fillOpacity": 1, "stroke": "#9C27B0", "strokeWidth": 2, "opacity": 1},
          "encoding": {"x": {"field": "i", "type": "quantitative"}, "y": {"field": "p", "type": "quantitative"}}
        },
        {
          "data": {"values": [{"i": 261, "p": 135.95}]},
          "mark": {"type": "point", "shape": "M0.2,-1L-0.5,0.15H0L-0.2,1L0.5,-0.15H0Z", "size": 324, "filled": true, "color": "#9C27B0", "opacity": 1},
          "encoding": {"x": {"field": "i", "type": "quantitative"}, "y": {"field": "p", "type": "quantitative"}}
        },
        {
          "data": {"values": [{"i": 294.5, "p": 136.07, "t": "A"}, {"i": 299.7, "p": 136.07, "t": "L"}]},
          "mark": {"type": "point", "shape": "square", "size": 729, "filled": false, "fill": "#FFFFFF", "fillOpacity": 1, "stroke": "#E9ECF2", "strokeWidth": 1.2, "opacity": 1},
          "encoding": {"x": {"field": "i", "type": "quantitative"}, "y": {"field": "p", "type": "quantitative"}}
        },
        {
          "data": {"values": [{"i": 294.5, "p": 136.07, "t": "A"}, {"i": 299.7, "p": 136.07, "t": "L"}]},
          "mark": {"type": "text", "font": "Inter", "fontSize": 16, "color": "#131722", "baseline": "middle"},
          "encoding": {"x": {"field": "i", "type": "quantitative"}, "y": {"field": "p", "type": "quantitative"}, "text": {"field": "t"}}
        }
      ]
    },
    {
      "width": 1825,
      "height": 162,
      "layer": [
        {
          "data": {"values": [{"i": -5.94, "e": 289.65, "a": 20}]},
          "mark": {"type": "rule", "color": "#00BCD4", "strokeWidth": 2.8, "clip": true},
          "encoding": {
            "x": {"field": "i", "type": "quantitative", "scale": {"domain": [-5.94, 289.65], "nice": false, "zero": false},
              "axis": {"orient": "bottom", "values": [0, 22.9, 45, 66.1, 89.1, 110, 131, 153, 173, 194, 216, 238, 259, 282], "labelExpr": "['Jul','Aug','Sep','Oct','Nov','Dec','2025','Feb','Mar','Apr','May','Jun','Jul','Aug'][indexof([0,22.9,45,66.1,89.1,110,131,153,173,194,216,238,259,282],datum.value)]", "labelFontWeight": {"condition": {"test": "datum.value == 131", "value": "bold"}, "value": "normal"}, "labelFont": "Inter", "labelFontSize": 16, "labelColor": "#131722", "labelPadding": 11, "labelOverlap": false, "labelFlush": false, "labelBound": false, "ticks": false, "domain": false, "grid": true, "gridColor": "#F0F3FA", "gridWidth": 1.4}},
            "x2": {"field": "e"},
            "y": {"field": "a", "type": "quantitative", "scale": {"domain": [5.8, 55.9], "nice": false, "zero": false},
              "axis": {"orient": "right", "values": [40], "format": ".2f", "domain": false, "ticks": false, "grid": true, "gridColor": "#F0F3FA", "gridWidth": 1.4, "labelFont": "Inter", "labelFontSize": 16, "labelColor": "#131722", "labelPadding": 8}}
          }
        },
        {
          "data": {"name": "adx"},
          "mark": {"type": "line", "color": "#F23645", "strokeWidth": 1.4, "clip": true},
          "encoding": {"x": {"field": "i", "type": "quantitative"}, "y": {"field": "a", "type": "quantitative"}}
        },
        {
          "data": {"values": [{"a": 20.8}]},
          "mark": {"type": "rule", "strokeWidth": 18, "color": "#00BCD4"},
          "encoding": {"x": {"datum": 289.65}, "x2": {"datum": 299.85}, "y": {"field": "a", "type": "quantitative"}}
        },
        {
          "data": {"values": [{"i": 290.8, "a": 20.0, "t": "20.00"}]},
          "mark": {"type": "text", "align": "left", "baseline": "middle", "font": "Inter", "fontSize": 16, "color": "#131722"},
          "encoding": {"x": {"field": "i", "type": "quantitative"}, "y": {"field": "a", "type": "quantitative"}, "text": {"field": "t"}}
        },
        {
          "data": {"values": [{"i": -5.7, "e": 304.6, "a": -5.66}]},
          "mark": {"type": "rule", "color": "#F0F3FA", "strokeWidth": 3},
          "encoding": {"x": {"field": "i", "type": "quantitative"}, "x2": {"field": "e"}, "y": {"field": "a", "type": "quantitative"}}
        },
        {
          "data": {"values": [{"i": -4.0, "a": 48.75, "t": "ADX 14 14", "role": "dark"}, {"i": 12.3, "a": 48.75, "t": "11.20", "role": "red"}]},
          "mark": {"type": "text", "align": "left", "baseline": "middle", "font": "Inter", "fontSize": 16},
          "encoding": {
            "x": {"field": "i", "type": "quantitative"}, "y": {"field": "a", "type": "quantitative"}, "text": {"field": "t"},
            "color": {"condition": {"test": "datum.role == 'red'", "value": "#F23645"}, "value": "#131722"}
          }
        },
        {
          "data": {"values": [{"i": -0.16, "a": 14.75}]},
          "mark": {"type": "point", "shape": "M-1.02,-0.5H-0.2V0.5H-0.62V-0.17H-1.02ZM-0.1,-0.33a0.165,0.165 0 1,0 0.33,0a0.165,0.165 0 1,0 -0.33,0ZM0.27,-0.5H1.03L0.66,0.5H0.05Z", "size": 1600, "filled": true, "color": "#131722", "opacity": 1},
          "encoding": {"x": {"field": "i", "type": "quantitative"}, "y": {"field": "a", "type": "quantitative"}}
        },
        {
          "data": {"values": [{"i": 294.5, "a": 11.96, "t": "A"}]},
          "mark": {"type": "point", "shape": "square", "size": 729, "filled": true, "color": "#2A2E39", "opacity": 1},
          "encoding": {"x": {"field": "i", "type": "quantitative"}, "y": {"field": "a", "type": "quantitative"}}
        },
        {
          "data": {"values": [{"i": 299.7, "a": 11.96}]},
          "mark": {"type": "point", "shape": "square", "size": 729, "filled": false, "stroke": "#E9ECF2", "strokeWidth": 1.2, "opacity": 1},
          "encoding": {"x": {"field": "i", "type": "quantitative"}, "y": {"field": "a", "type": "quantitative"}}
        },
        {
          "data": {"values": [{"i": 294.5, "a": 11.96, "t": "A"}, {"i": 299.7, "a": 11.96, "t": "L"}]},
          "mark": {"type": "text", "font": "Inter", "fontSize": 16, "baseline": "middle"},
          "encoding": {
            "x": {"field": "i", "type": "quantitative"}, "y": {"field": "a", "type": "quantitative"}, "text": {"field": "t"},
            "color": {"condition": {"test": "datum.t == 'A'", "value": "#FFFFFF"}, "value": "#131722"}
          }
        },
        {
          "data": {"values": [{"i": 297.2, "a": -0.09}]},
          "mark": {"type": "point", "shape": "M0,-1L0.87,-0.5V0.5L0,1L-0.87,0.5V-0.5Z", "size": 676, "filled": false, "stroke": "#131722", "strokeWidth": 1.5, "opacity": 1},
          "encoding": {"x": {"field": "i", "type": "quantitative"}, "y": {"field": "a", "type": "quantitative"}}
        },
        {
          "data": {"values": [{"i": 297.2, "a": -0.09}]},
          "mark": {"type": "point", "shape": "circle", "size": 40, "filled": false, "stroke": "#131722", "strokeWidth": 1.5, "opacity": 1},
          "encoding": {"x": {"field": "i", "type": "quantitative"}, "y": {"field": "a", "type": "quantitative"}}
        }
      ]
    }
  ]
}
